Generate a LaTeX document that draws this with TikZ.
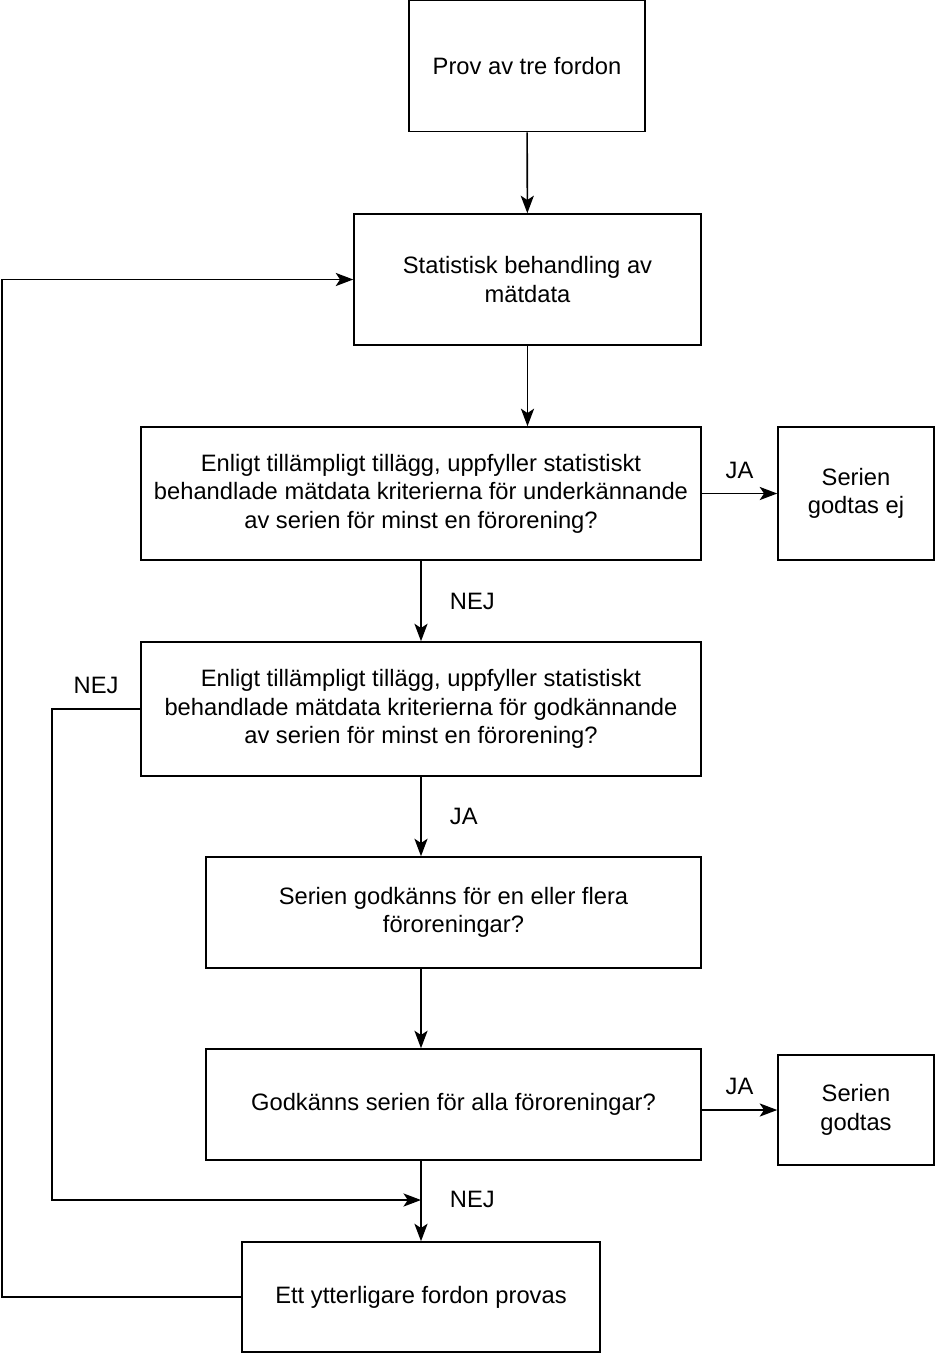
\documentclass[tikz,border=0pt]{standalone}
\usepackage{fontspec}
\setmainfont{Liberation Sans}
\usetikzlibrary{arrows.meta,positioning}

\begin{document}
\begin{tikzpicture}[
    x=0.02cm, y=-0.02cm,
    every node/.style={font=\fontsize{13.5}{16.2}\selectfont},
    box/.style={draw, line width=0.9pt, align=center, inner sep=0pt},
    arr/.style={line width=0.9pt, -{Stealth[length=10pt,width=7.5pt,inset=2.5pt]}},
    lbl/.style={inner sep=0pt}
    ]
    \useasboundingbox (0,0) rectangle (936,1353);

    \node [box, minimum width=4.72cm, minimum height=2.62cm]
        (prov) at (527,66) {Prov av tre fordon};
    \node [box, minimum width=6.94cm, minimum height=2.62cm]
        (stat) at (527.5,279.5) {Statistisk behandling av\\mätdata};
    \node [box, minimum width=11.2cm, minimum height=2.66cm]
        (underk) at (421,493.5)
        {Enligt tillämpligt tillägg, uppfyller statistiskt\\
         behandlade mätdata kriterierna för underkännande\\
         av serien för minst en förorening?};
    \node [box, minimum width=3.12cm, minimum height=2.66cm]
        (godtasej) at (856,493.5) {Serien\\godtas ej};
    \node [box, minimum width=11.2cm, minimum height=2.68cm]
        (godk) at (421,709)
        {Enligt tillämpligt tillägg, uppfyller statistiskt\\
         behandlade mätdata kriterierna för godkännande\\
         av serien för minst en förorening?};
    \node [box, minimum width=9.9cm, minimum height=2.22cm]
        (flera) at (453.5,912.5) {Serien godkänns för en eller flera\\föroreningar?};
    \node [box, minimum width=9.9cm, minimum height=2.22cm]
        (alla) at (453.5,1104.5) {Godkänns serien för alla föroreningar?};
    \node [box, minimum width=3.12cm, minimum height=2.2cm]
        (godtas) at (856,1110) {Serien\\godtas};
    \node [box, minimum width=7.16cm, minimum height=2.2cm]
        (ett) at (421,1297) {Ett ytterligare fordon provas};

    \coordinate (nejL) at (52,1200);
    \coordinate (merge) at (421,1200);
    \coordinate (loopL) at (2,0);

    % main flow
    \draw [arr] (prov) -- (stat);
    \draw [arr] (stat.south) -- (stat.south |- underk.north);
    \draw [arr] (underk) -- (godtasej)
        node [lbl, midway, above=8pt] {JA};
    \draw [arr] (underk) -- (godk)
        node [lbl, midway, right=16pt] {NEJ};
    \draw [arr] (godk.south) -- (godk.south |- flera.north)
        node [lbl, midway, right=16pt] {JA};
    \draw [arr] (godk.south |- flera.south) -- (godk.south |- alla.north);
    \draw [arr] (alla.east |- godtas) -- (godtas)
        node [lbl, midway, above=8pt] {JA};
    \draw [arr] (godk.south |- alla.south) -- (ett)
        node [lbl, pos=0.48, right=16pt] {NEJ};

    % loops
    \draw [arr] (godk.west) -- (godk.west -| nejL)
        node [lbl, midway, above=8pt] {NEJ}
        -- (nejL) -- (merge);
    \draw [arr] (ett.west) -- (ett.west -| loopL) |- (stat.west);
\end{tikzpicture}
\end{document}
